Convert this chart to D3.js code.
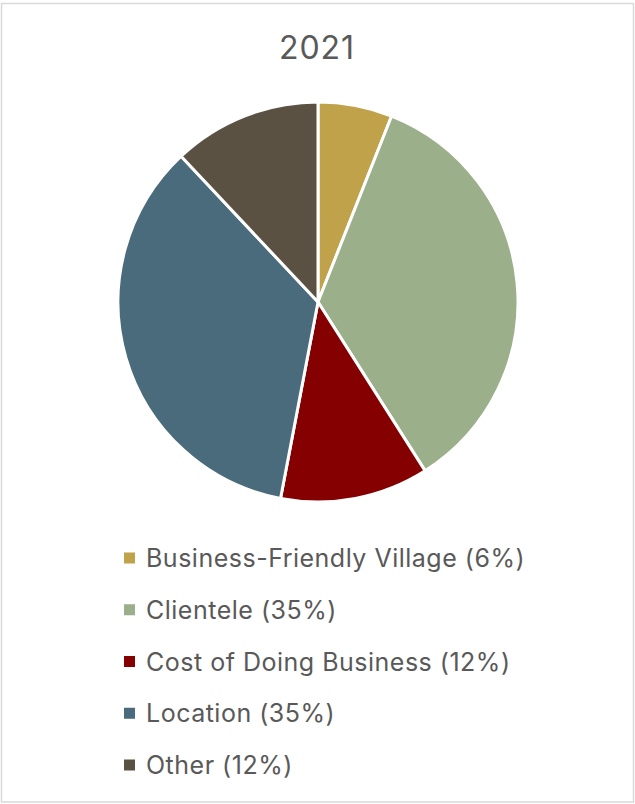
<!DOCTYPE html>
<html>
<head>
<meta charset="utf-8">
<script src="https://cdn.jsdelivr.net/npm/d3@7"></script>
<style>
  html, body { margin: 0; padding: 0; background: #fff; }
  svg { display: block; }
</style>
</head>
<body>
<svg id="chart" width="635" height="804"></svg>
<script>
// Reasons for choosing the location, 2021
const categories = ["Business-Friendly Village", "Clientele", "Cost of Doing Business", "Location", "Other"];
const shares = [6, 35, 12, 35, 12];
const colors = ["#C0A24B", "#9BAF8A", "#850000", "#4A6B7B", "#5A5143"];
const title = "2021";

const svg = d3.select("#chart");
const W = 635, H = 804;
const font = "Inter, 'Open Sans', sans-serif";
const textColor = "#595959";

// frame
svg.append("rect")
  .attr("x", 1.5).attr("y", 3.5)
  .attr("width", W - 3).attr("height", H - 5.5)
  .attr("fill", "#fff")
  .attr("stroke", "#d9d9d9")
  .attr("stroke-width", 1.5);

// title
svg.append("text")
  .attr("x", 317).attr("y", 59)
  .attr("text-anchor", "middle")
  .attr("font-family", font)
  .attr("font-size", 32)
  .attr("letter-spacing", 1)
  .attr("fill", textColor)
  .text(title);

// pie
const cx = 318, cy = 302, r = 200;
const data = categories.map((c, i) => ({ name: c, value: shares[i], color: colors[i] }));
const pie = d3.pie().value(d => d.value).sort(null);
const arc = d3.arc().innerRadius(0).outerRadius(r);

svg.append("g")
  .attr("transform", `translate(${cx},${cy})`)
  .selectAll("path")
  .data(pie(data))
  .join("path")
  .attr("d", arc)
  .attr("fill", d => d.data.color)
  .attr("stroke", "#fff")
  .attr("stroke-width", 3)
  .attr("stroke-linejoin", "round");

// legend
const legendY = d3.scalePoint().domain(categories).range([558, 765]);
const legend = svg.append("g")
  .selectAll("g")
  .data(data)
  .join("g")
  .attr("transform", d => `translate(124,${legendY(d.name)})`);

legend.append("rect")
  .attr("x", 0).attr("y", -5.5)
  .attr("width", 11).attr("height", 11)
  .attr("fill", d => d.color);

legend.append("text")
  .attr("x", 22).attr("y", 9)
  .attr("font-family", font)
  .attr("font-size", 25)
  .attr("letter-spacing", 0.5)
  .attr("fill", textColor)
  .text(d => `${d.name} (${d.value}%)`);
</script>
</body>
</html>
